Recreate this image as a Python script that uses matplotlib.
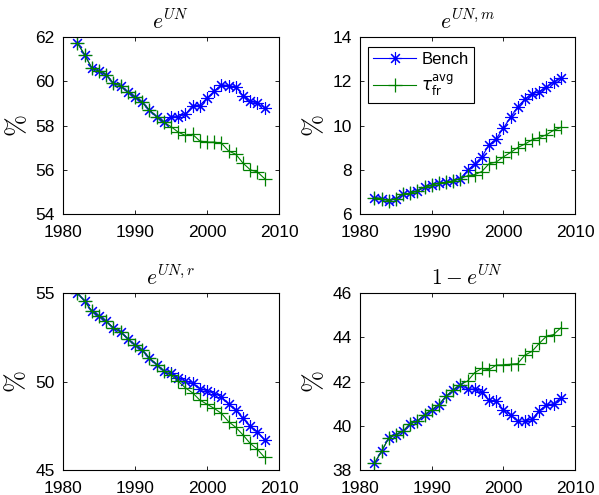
import matplotlib
matplotlib.use('Agg')
import matplotlib.pyplot as plt
from matplotlib.font_manager import FontProperties

plt.rcParams['font.family'] = ['Liberation Sans', 'DejaVu Sans']
plt.rcParams['mathtext.fontset'] = 'cm'

years = list(range(1982, 2009))

# e^UN
eun_bench = [61.73, 61.2, 60.6, 60.45, 60.3, 59.9, 59.8, 59.5, 59.3, 59.05, 58.7, 58.4, 58.15,
             58.4, 58.4, 58.5, 58.9, 58.9, 59.25, 59.55, 59.85, 59.8, 59.75, 59.35, 59.1, 59.0, 58.8]
eun_tau = [61.73, 61.2, 60.6, 60.45, 60.3, 59.9, 59.8, 59.5, 59.3, 59.05, 58.7, 58.4, 58.15,
           57.95, 57.7, 57.55, 57.6, 57.3, 57.25, 57.25, 57.2, 56.85, 56.7, 56.3, 56.0, 55.9, 55.6]

# e^UN,m
eunm_bench = [6.74, 6.7, 6.6, 6.7, 6.9, 6.93, 7.05, 7.2, 7.3, 7.4, 7.43, 7.5, 7.6,
              7.97, 8.27, 8.58, 9.12, 9.4, 9.88, 10.37, 10.84, 11.19, 11.42, 11.53, 11.73, 11.96, 12.14]
eunm_tau = [6.74, 6.7, 6.6, 6.7, 6.9, 6.93, 7.05, 7.2, 7.3, 7.4, 7.43, 7.5, 7.6,
            7.73, 7.78, 7.92, 8.27, 8.35, 8.58, 8.78, 9.0, 9.16, 9.35, 9.45, 9.58, 9.78, 9.91]

# e^UN,r
eunr_bench = [55.0, 54.55, 53.97, 53.7, 53.4, 53.03, 52.8, 52.42, 52.05, 51.77, 51.33, 50.96, 50.6,
              50.49, 50.2, 50.02, 49.89, 49.6, 49.47, 49.32, 49.14, 48.72, 48.38, 47.91, 47.48, 47.16, 46.69]
eunr_tau = [55.0, 54.55, 53.97, 53.7, 53.4, 53.03, 52.8, 52.42, 52.05, 51.77, 51.33, 50.96, 50.6,
            50.36, 50.02, 49.64, 49.36, 48.95, 48.72, 48.48, 48.2, 47.73, 47.41, 46.98, 46.5, 46.17, 45.71]

# 1 - e^UN
one_bench = [38.3, 38.84, 39.44, 39.6, 39.75, 40.1, 40.2, 40.5, 40.72, 40.95, 41.33, 41.6, 41.86,
             41.66, 41.66, 41.51, 41.15, 41.13, 40.72, 40.5, 40.2, 40.2, 40.3, 40.68, 40.92, 41.0, 41.26]
one_tau = [38.3, 38.84, 39.44, 39.6, 39.75, 40.1, 40.2, 40.5, 40.72, 40.95, 41.33, 41.6, 41.86,
           42.02, 42.4, 42.59, 42.53, 42.74, 42.75, 42.78, 42.81, 43.19, 43.36, 43.72, 44.04, 44.12, 44.42]

panels = [
    (r'$e^{UN}$', eun_bench, eun_tau, (54, 62), [54, 56, 58, 60, 62]),
    (r'$e^{UN,m}$', eunm_bench, eunm_tau, (6, 14), [6, 8, 10, 12, 14]),
    (r'$e^{UN,r}$', eunr_bench, eunr_tau, (45, 55), [45, 50, 55]),
    (r'$1-e^{UN}$', one_bench, one_tau, (38, 46), [38, 40, 42, 44, 46]),
]

# axes rectangles in figure fraction (left, bottom, width, height)
W, H = 599, 495
rects = [
    (63 / W, 1 - 214 / H, 216 / W, 177 / H),
    (360 / W, 1 - 214 / H, 215 / W, 177 / H),
    (63 / W, 1 - 470 / H, 216 / W, 177 / H),
    (360 / W, 1 - 470 / H, 215 / W, 177 / H),
]

asterisk = (8, 2, 0)  # MATLAB-style '*'

fig = plt.figure(figsize=(W / 100, H / 100), dpi=100, facecolor='white')

for i, (title, bench, tau, ylim, yt) in enumerate(panels):
    ax = fig.add_axes(rects[i])
    ax.plot(years, bench, color='#0000ff', marker=asterisk, markersize=9, linewidth=0.8,
            markeredgewidth=0.8, label='Bench')
    ax.plot(years, tau, color='#008000', marker='+', markersize=10, linewidth=0.8,
            markeredgewidth=0.9, label=r'$\tau_{\mathsf{fr}}^{\mathsf{avg}}$')
    ax.set_xlim(1980, 2010)
    ax.set_ylim(*ylim)
    ax.set_xticks([1980, 1990, 2000, 2010])
    ax.set_yticks(yt)
    ax.tick_params(direction='in', length=3, width=0.6, top=True, right=True,
                   labelsize=12.5)
    ax.tick_params(axis='x', pad=8)
    ax.tick_params(axis='y', pad=6)
    for s in ax.spines.values():
        s.set_linewidth(0.8)
    ax.set_title(title, fontsize=15.5, pad=6)
    ax.set_ylabel(r'$\%$', fontsize=19, labelpad=4)
    if i == 1:
        leg = ax.legend(loc='upper left', fancybox=False, edgecolor='black', framealpha=1,
                        prop=FontProperties(family='Liberation Sans', size=12,
                                            math_fontfamily='dejavusans'),
                        handlelength=2.6, handletextpad=0.3, borderpad=0.3,
                        labelspacing=0.3, borderaxespad=0,
                        bbox_to_anchor=(8 / 215, 1 - 10 / 177))
        leg.get_frame().set_linewidth(0.8)

fig.savefig('out.png', dpi=100)
